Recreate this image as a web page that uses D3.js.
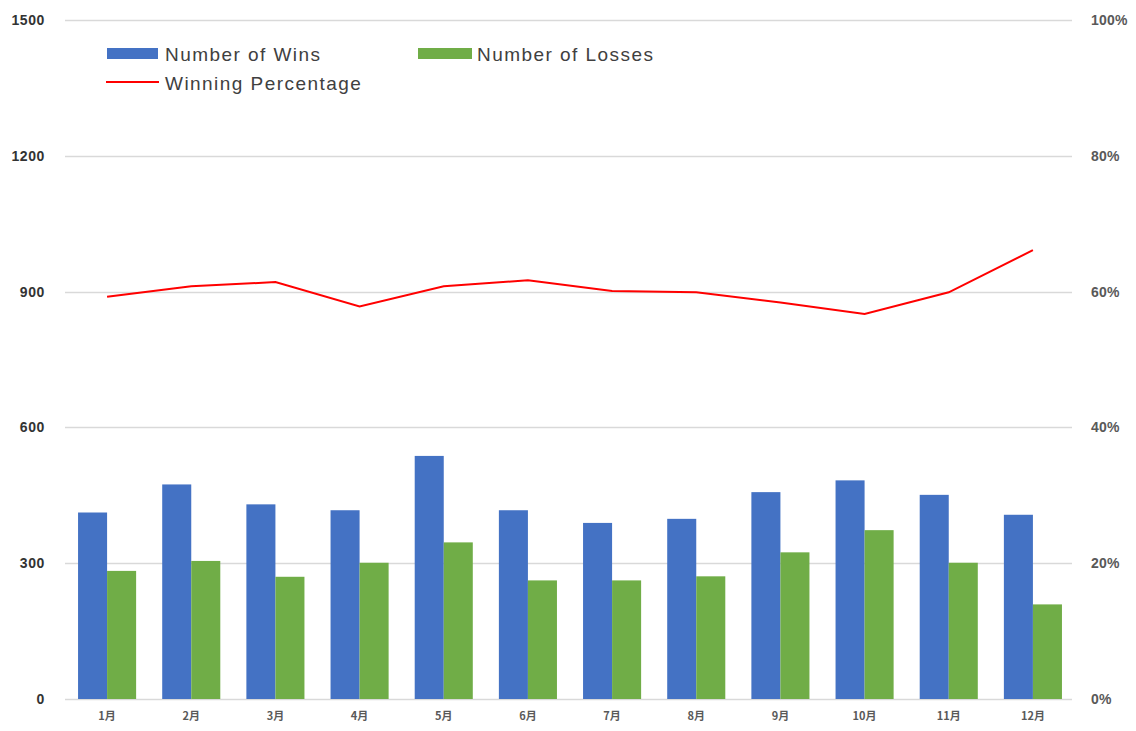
<!DOCTYPE html>
<html>
<head>
<meta charset="utf-8">
<script src="https://cdnjs.cloudflare.com/ajax/libs/d3/7.8.5/d3.min.js"></script>
<style>
    body { margin: 0; background: #fff; }
    svg { display: block; }
</style>
</head>
<body>
<svg id="chart" width="1136" height="731"></svg>
<script>
'use strict';

/* Data */

var months = ['1月', '2月', '3月', '4月', '5月', '6月', '7月', '8月', '9月', '10月', '11月', '12月'];
var wins = [412, 474, 430, 417, 537, 417, 389, 398, 457, 483, 451, 407];
var losses = [283, 305, 270, 301, 346, 262, 262, 271, 324, 373, 301, 209];
var winPct = [0.5925, 0.608, 0.614, 0.578, 0.608, 0.6166, 0.601, 0.599, 0.584, 0.567, 0.599, 0.661];
var leftTicks = [0, 300, 600, 900, 1200, 1500];
var rightTicks = [0, 0.2, 0.4, 0.6, 0.8, 1.0];

var seriesNames = ['Number of Wins', 'Number of Losses', 'Winning Percentage'];
var colors = { wins: '#4472C4', losses: '#70AD47', pct: '#FF0000' };

/* Layout */

var svg = d3.select('#chart');
var plotLeft = 65, plotRight = 1075, plotTop = 20, plotBottom = 699;

var x = d3.scaleBand()
    .domain(months)
    .range([plotLeft, plotRight])
    .paddingInner(0.31)
    .paddingOuter(0.155);

var xSub = d3.scaleBand()
    .domain(['wins', 'losses'])
    .range([0, x.bandwidth()]);

var y = d3.scaleLinear().domain([0, 1500]).range([plotBottom, plotTop]);
var yPct = d3.scaleLinear().domain([0, 1]).range([plotBottom, plotTop]);

// gridlines
svg.append('g')
    .selectAll('line')
    .data(leftTicks)
    .join('line')
    .attr('x1', plotLeft)
    .attr('x2', plotRight - 3)
    .attr('y1', function (d) { return Math.round(y(d)) + 0.5; })
    .attr('y2', function (d) { return Math.round(y(d)) + 0.5; })
    .attr('stroke', '#d9d9d9')
    .attr('stroke-width', 1.3);

// left axis
var yAxis = d3.axisLeft(y).tickValues(leftTicks).tickSize(0).tickPadding(20)
    .tickFormat(d3.format('d'));
svg.append('g')
    .attr('transform', 'translate(' + plotLeft + ',0)')
    .call(yAxis)
    .call(function (g) { g.select('.domain').remove(); })
    .selectAll('text')
    .attr('font-family', 'Liberation Sans, Arial, sans-serif')
    .attr('font-size', 14)
    .attr('font-weight', 'bold')
    .attr('letter-spacing', 0.6)
    .attr('fill', '#333');

// right axis
var yAxisRight = d3.axisRight(yPct).tickValues(rightTicks).tickSize(0).tickPadding(16)
    .tickFormat(d3.format('.0%'));
svg.append('g')
    .attr('transform', 'translate(' + plotRight + ',0)')
    .call(yAxisRight)
    .call(function (g) { g.select('.domain').remove(); })
    .selectAll('text')
    .attr('font-family', 'Liberation Sans, Arial, sans-serif')
    .attr('font-size', 14)
    .attr('font-weight', 'bold')
    .attr('letter-spacing', 0.2)
    .attr('fill', '#595959');

// x axis labels
var xAxis = d3.axisBottom(x).tickSize(0).tickPadding(13);
svg.append('g')
    .attr('transform', 'translate(0,' + plotBottom + ')')
    .call(xAxis)
    .call(function (g) { g.select('.domain').remove(); })
    .selectAll('text')
    .attr('font-family', 'Noto Sans CJK JP, sans-serif')
    .attr('font-size', 11)
    .attr('font-weight', 'bold')
    .attr('fill', '#595959');

// bars
var groups = svg.append('g')
    .selectAll('g')
    .data(months)
    .join('g')
    .attr('transform', function (d) { return 'translate(' + x(d) + ',0)'; });

groups.append('rect')
    .attr('x', xSub('wins'))
    .attr('width', xSub.bandwidth())
    .attr('y', function (d, i) { return y(wins[i]); })
    .attr('height', function (d, i) { return plotBottom - y(wins[i]); })
    .attr('fill', colors.wins);

groups.append('rect')
    .attr('x', xSub('losses'))
    .attr('width', xSub.bandwidth())
    .attr('y', function (d, i) { return y(losses[i]); })
    .attr('height', function (d, i) { return plotBottom - y(losses[i]); })
    .attr('fill', colors.losses);

// winning percentage line
var line = d3.line()
    .x(function (d, i) { return x(months[i]) + x.bandwidth() / 2; })
    .y(function (d) { return yPct(d); });

svg.append('path')
    .datum(winPct)
    .attr('d', line)
    .attr('fill', 'none')
    .attr('stroke', colors.pct)
    .attr('stroke-width', 2);

/* Legend */

var legend = svg.append('g')
    .attr('font-family', 'Liberation Sans, Arial, sans-serif')
    .attr('font-size', 19)
    .attr('letter-spacing', 1.45)
    .attr('fill', '#404040');

legend.append('rect').attr('x', 107).attr('y', 48).attr('width', 51).attr('height', 11).attr('fill', colors.wins);
legend.append('text').attr('x', 165).attr('y', 61).text(seriesNames[0]);

legend.append('rect').attr('x', 418).attr('y', 48).attr('width', 54).attr('height', 11).attr('fill', colors.losses);
legend.append('text').attr('x', 477).attr('y', 61).text(seriesNames[1]);

legend.append('line').attr('x1', 106).attr('x2', 159).attr('y1', 82).attr('y2', 82)
    .attr('stroke', colors.pct).attr('stroke-width', 2);
legend.append('text').attr('x', 165).attr('y', 90).text(seriesNames[2]);
</script>
</body>
</html>
